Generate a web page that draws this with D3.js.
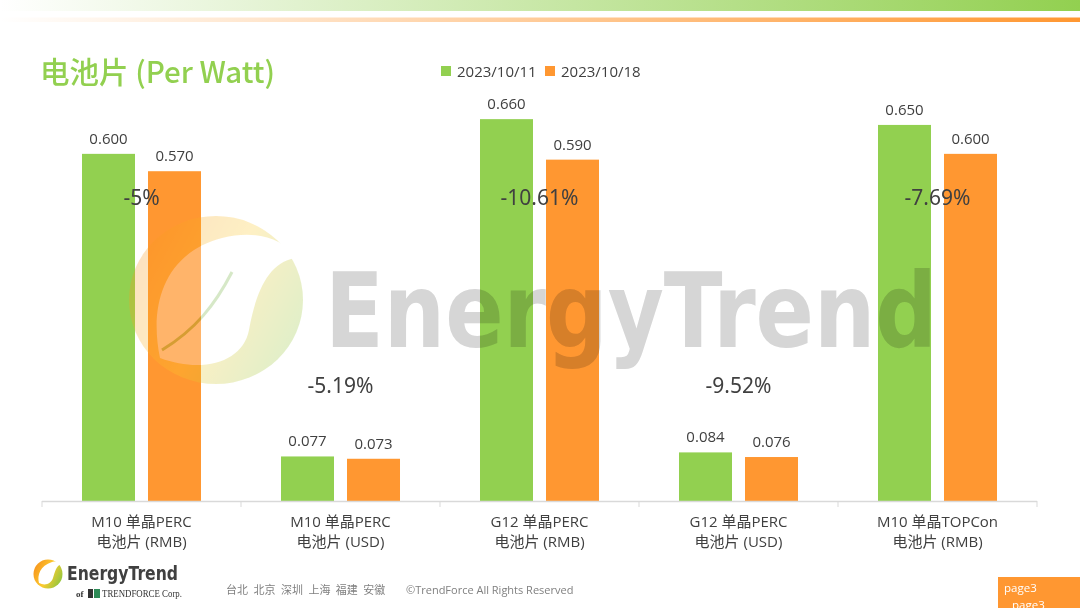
<!DOCTYPE html>
<html>
<head>
<meta charset="utf-8">
<script src="https://cdn.jsdelivr.net/npm/d3@7"></script>
<style>
  html, body { margin: 0; padding: 0; background: #fff; }
  svg { display: block; font-family: "Open Sans", "Noto Sans CJK SC", sans-serif; }
</style>
</head>
<body>
<svg id="chart" width="1080" height="608"></svg>
<script>
// 数据
const categories = [
    ['M10 单晶PERC', '电池片 (RMB)'],
    ['M10 单晶PERC', '电池片 (USD)'],
    ['G12 单晶PERC', '电池片 (RMB)'],
    ['G12 单晶PERC', '电池片 (USD)'],
    ['M10 单晶TOPCon', '电池片 (RMB)']
];
const seriesNames = ['2023/10/11', '2023/10/18'];
const pricesOct11 = [0.600, 0.077, 0.660, 0.084, 0.650];
const pricesOct18 = [0.570, 0.073, 0.590, 0.076, 0.600];
const changeLabels = ['-5%', '-5.19%', '-10.61%', '-9.52%', '-7.69%'];

const colors = ['#92D050', '#FF9731'];
const textColor = '#404040';

const svg = d3.select('#chart');
const W = 1080, H = 608;

// 渐变定义
const defs = svg.append('defs');
function hGrad(id, stops) {
    const g = defs.append('linearGradient').attr('id', id)
        .attr('x1', '0%').attr('x2', '100%').attr('y1', '0%').attr('y2', '0%');
    stops.forEach(s => g.append('stop').attr('offset', s[0]).attr('stop-color', s[1]).attr('stop-opacity', s[2] == null ? 1 : s[2]));
}
hGrad('topGreen', [['0%', '#92D050', 0], ['100%', '#92D050', 1]]);
hGrad('topOrange', [['0%', '#FF9731', 0], ['100%', '#FF9731', 1]]);
function leafGradient(id) {
    const lg = defs.append('linearGradient').attr('id', id)
        .attr('x1', '0%').attr('y1', '25%').attr('x2', '100%').attr('y2', '75%');
    lg.append('stop').attr('offset', '0%').attr('stop-color', '#F7941D');
    lg.append('stop').attr('offset', '50%').attr('stop-color', '#FCCB2F');
    lg.append('stop').attr('offset', '100%').attr('stop-color', '#8CC63F');
}
leafGradient('leafGrad');
leafGradient('leafGradSmall');

// 顶部装饰条
svg.append('rect').attr('x', 0).attr('y', 0).attr('width', W).attr('height', 11).attr('fill', 'url(#topGreen)');
svg.append('rect').attr('x', 0).attr('y', 17.5).attr('width', W).attr('height', 4.5).attr('fill', 'url(#topOrange)');

// 标题
svg.append('text').attr('x', 40).attr('y', 83)
    .attr('fill', '#92D050').attr('font-size', 29.5).attr('font-weight', 500)
    .attr('font-family', '"Noto Sans CJK SC", "Open Sans", sans-serif')
    .text('电池片 (Per Watt)');

// 图例
const legend = svg.append('g');
const legendX = [441, 545];
seriesNames.forEach((name, i) => {
    legend.append('rect').attr('x', legendX[i]).attr('y', 66).attr('width', 10).attr('height', 10).attr('fill', colors[i]);
    legend.append('text').attr('x', legendX[i] + 16).attr('y', 76.5)
        .attr('font-size', 15).attr('fill', textColor).text(name);
});

// 比例尺
const x0 = d3.scaleBand().domain(d3.range(categories.length)).range([42, 1037]);
const x1 = d3.scaleBand().domain(d3.range(seriesNames.length)).range([0, x0.bandwidth()])
    .paddingInner(0.197).paddingOuter(0.606);
const y = d3.scaleLinear().domain([0, 0.7]).range([501, 96]);

// 柱子
const series = [pricesOct11, pricesOct18];
const groups = svg.append('g').selectAll('g').data(categories).join('g')
    .attr('transform', (d, i) => `translate(${x0(i)},0)`);

groups.each(function (d, ci) {
    const g = d3.select(this);
    series.forEach((vals, si) => {
        g.append('rect')
            .attr('x', x1(si)).attr('width', x1.bandwidth())
            .attr('y', y(vals[ci])).attr('height', y(0) - y(vals[ci]))
            .attr('fill', colors[si]);
        g.append('text')
            .attr('x', x1(si) + x1.bandwidth() / 2).attr('y', y(vals[ci]) - 10)
            .attr('text-anchor', 'middle').attr('font-size', 15).attr('fill', textColor)
            .text(d3.format('.3f')(vals[ci]));
    });
});

// 水印圆形标志（覆盖在柱子上方）
const wm = svg.append('g').attr('opacity', 0.28);
wm.append('ellipse').attr('cx', 216).attr('cy', 300).attr('rx', 87).attr('ry', 84).attr('fill', 'url(#leafGrad)');
wm.append('path')
    .attr('d', 'M160,358 C148,300 168,252 222,238 C258,229 286,240 295,258 C268,263 256,292 249,330 C243,362 203,374 160,358 Z')
    .attr('fill', '#fff');
wm.append('path')
    .attr('d', 'M232,272 C215,305 195,330 162,350')
    .attr('fill', 'none').attr('stroke', '#6FAF3A').attr('stroke-width', 3);

// 水印文字
svg.append('text').attr('x', 325).attr('y', 347)
    .attr('font-family', '"DejaVu Sans", sans-serif').attr('font-weight', 'bold')
    .attr('font-size', 104).attr('fill', '#D6D6D6')
    .attr('textLength', 612).attr('lengthAdjust', 'spacingAndGlyphs')
    .style('mix-blend-mode', 'multiply')
    .text('EnergyTrend');

// 涨跌幅标签
groups.append('text')
    .attr('x', x0.bandwidth() / 2)
    .attr('y', (d, i) => (Math.max(pricesOct11[i], pricesOct18[i]) > 0.3 ? y(0.525) : y(0.2)) + 8)
    .attr('text-anchor', 'middle').attr('font-size', 21).attr('fill', textColor)
    .attr('font-family', '"Liberation Sans Narrow", "Noto Sans", sans-serif')
    .text((d, i) => changeLabels[i]);

// X 轴
const axis = svg.append('g');
axis.append('line').attr('x1', 42).attr('x2', 1037).attr('y1', 501.5).attr('y2', 501.5)
    .attr('stroke', '#D9D9D9').attr('stroke-width', 1.5);
d3.range(categories.length + 1).forEach(i => {
    const xx = i < categories.length ? x0(i) : x0.range()[1];
    axis.append('line').attr('x1', xx).attr('x2', xx).attr('y1', 501).attr('y2', 507)
        .attr('stroke', '#D9D9D9').attr('stroke-width', 1);
});
groups.each(function (d) {
    const g = d3.select(this);
    d.forEach((line, li) => {
        g.append('text').attr('x', x0.bandwidth() / 2).attr('y', 527 + li * 19.5)
            .attr('text-anchor', 'middle').attr('font-size', 15).attr('fill', textColor)
            .attr('font-family', '"Open Sans", "Noto Sans CJK SC", sans-serif')
            .text(line);
    });
});

// 页脚标志
const logo = svg.append('g');
logo.append('circle').attr('cx', 48).attr('cy', 574).attr('r', 14.5).attr('fill', 'url(#leafGradSmall)');
logo.append('path')
    .attr('d', 'M39,583 C37,575 40,566 52,562 C57,561 60,562 61,564 C56,566 55,572 53,578 C51,584 45,586 39,583 Z')
    .attr('fill', '#fff');
logo.append('text').attr('x', 67).attr('y', 580)
    .attr('font-family', '"DejaVu Sans", sans-serif').attr('font-weight', 'bold')
    .attr('font-size', 19).attr('fill', '#404040')
    .attr('textLength', 111).attr('lengthAdjust', 'spacingAndGlyphs')
    .text('EnergyTrend');
logo.append('text').attr('x', 76).attr('y', 597)
    .attr('font-family', '"Liberation Serif", serif').attr('font-weight', 'bold')
    .attr('font-size', 9).attr('fill', '#333').text('of');
logo.append('rect').attr('x', 88).attr('y', 589).attr('width', 5).attr('height', 9).attr('fill', '#333');
logo.append('rect').attr('x', 94).attr('y', 589).attr('width', 6).attr('height', 9).attr('fill', '#2E8B57');
logo.append('text').attr('x', 102).attr('y', 597)
    .attr('font-family', '"Liberation Serif", serif')
    .attr('font-size', 9.5).attr('fill', '#333')
    .attr('textLength', 80).attr('lengthAdjust', 'spacingAndGlyphs')
    .text('TRENDFORCE Corp.');

svg.append('text').attr('x', 226).attr('y', 594)
    .attr('font-family', '"Noto Sans CJK SC", sans-serif')
    .attr('font-size', 11).attr('fill', '#808080').attr('word-spacing', 3)
    .text('台北 北京 深圳 上海 福建 安徽');
svg.append('text').attr('x', 406).attr('y', 594)
    .attr('font-size', 11).attr('fill', '#808080')
    .text('©TrendForce All Rights Reserved');

// 页码
svg.append('rect').attr('x', 998).attr('y', 577).attr('width', 82).attr('height', 31).attr('fill', '#FF9731');
svg.append('text').attr('x', 1004).attr('y', 592).attr('font-size', 11.5).attr('fill', '#fff').text('page3');
svg.append('text').attr('x', 1012).attr('y', 609).attr('font-size', 11.5).attr('fill', '#fff').text('page3');
</script>
</body>
</html>
